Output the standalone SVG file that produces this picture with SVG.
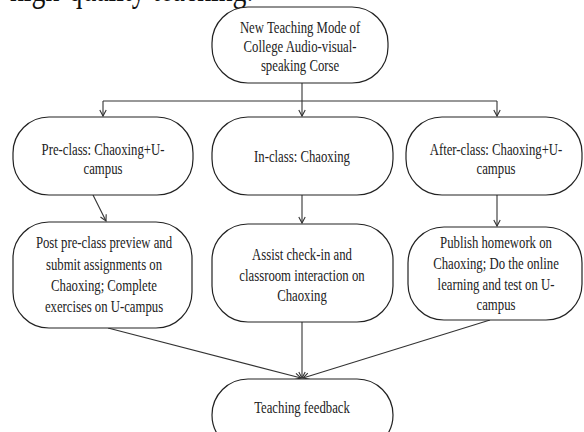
<svg xmlns="http://www.w3.org/2000/svg" width="584" height="432" viewBox="0 0 584 432">
<defs>
<style>
.node{fill:#fff;stroke:#222;stroke-width:1.2}
.lbl{font-family:"Liberation Serif","Times New Roman",serif;font-size:17px;fill:#222;text-anchor:middle}
.cn{fill:none;stroke:#333;stroke-width:1.1}
</style>
<marker id="ah" viewBox="-8 -5 10 10" refX="0" refY="0" markerWidth="10" markerHeight="10" markerUnits="userSpaceOnUse" orient="auto">
<path d="M-6,-3.2 L0,0 L-6,3.2" fill="none" stroke="#333" stroke-width="1.1"/>
</marker>
</defs>
<rect width="584" height="432" fill="#fff"/>
<text transform="translate(10,0.5) scale(0.75,1)" style="font-family:'Liberation Serif','Times New Roman',serif;font-size:37px;fill:#111">high-quality teaching.</text>
<g id="connectors">
<path class="cn" d="M302,83 V101"/>
<path class="cn" d="M103,101 H497"/>
<path class="cn" d="M103,101 V116" marker-end="url(#ah)"/>
<path class="cn" d="M302,101 V116" marker-end="url(#ah)"/>
<path class="cn" d="M497,101 V116" marker-end="url(#ah)"/>
<path class="cn" d="M93,195 L106,221" marker-end="url(#ah)"/>
<path class="cn" d="M302,195 V223" marker-end="url(#ah)"/>
<path class="cn" d="M497,195 V226" marker-end="url(#ah)"/>
<path class="cn" d="M108,328 L301,378" marker-end="url(#ah)"/>
<path class="cn" d="M302,322 V378" marker-end="url(#ah)"/>
<path class="cn" d="M490,320 L303,378" marker-end="url(#ah)"/>
</g>
<g id="top">
<rect class="node" x="212" y="7" width="176" height="76" rx="36" ry="36"/>
<text class="lbl" transform="translate(300,0) scale(0.75,1)"><tspan x="0" y="33">New Teaching Mode of</tspan><tspan x="0" y="52">College Audio-visual-</tspan><tspan x="0" y="71">speaking Corse</tspan></text>
</g>
<g id="pre">
<rect class="node" x="13" y="117" width="180" height="78" rx="36" ry="36"/>
<text class="lbl" transform="translate(103,0) scale(0.75,1)"><tspan x="0" y="155">Pre-class: Chaoxing+U-</tspan><tspan x="0" y="174">campus</tspan></text>
</g>
<g id="in">
<rect class="node" x="212" y="117" width="181" height="78" rx="36" ry="36"/>
<text class="lbl" transform="translate(302,0) scale(0.75,1)"><tspan x="0" y="162">In-class: Chaoxing</tspan></text>
</g>
<g id="after">
<rect class="node" x="406" y="117" width="176" height="78" rx="36" ry="36"/>
<text class="lbl" transform="translate(496,0) scale(0.75,1)"><tspan x="0" y="155">After-class: Chaoxing+U-</tspan><tspan x="0" y="174">campus</tspan></text>
</g>
<g id="preTask">
<rect class="node" x="13" y="222" width="179" height="106" rx="36" ry="36"/>
<text class="lbl" transform="translate(104,0) scale(0.75,1)"><tspan x="0" y="248">Post pre-class preview and</tspan><tspan x="0" y="270">submit assignments on</tspan><tspan x="0" y="291">Chaoxing; Complete</tspan><tspan x="0" y="312">exercises on U-campus</tspan></text>
</g>
<g id="inTask">
<rect class="node" x="212" y="224" width="181" height="98" rx="36" ry="36"/>
<text class="lbl" transform="translate(302,0) scale(0.75,1)"><tspan x="0" y="260">Assist check-in and</tspan><tspan x="0" y="281">classroom interaction on</tspan><tspan x="0" y="301">Chaoxing</tspan></text>
</g>
<g id="afterTask">
<rect class="node" x="408" y="227" width="174" height="93" rx="36" ry="36"/>
<text class="lbl" transform="translate(496,0) scale(0.75,1)"><tspan x="0" y="248">Publish homework on</tspan><tspan x="0" y="269">Chaoxing; Do the online</tspan><tspan x="0" y="290">learning and test on U-</tspan><tspan x="0" y="310">campus</tspan></text>
</g>
<g id="feedback">
<rect class="node" x="212" y="379" width="181" height="72" rx="36" ry="36"/>
<text class="lbl" transform="translate(302,0) scale(0.75,1)"><tspan x="0" y="413">Teaching feedback</tspan></text>
</g>
</svg>
